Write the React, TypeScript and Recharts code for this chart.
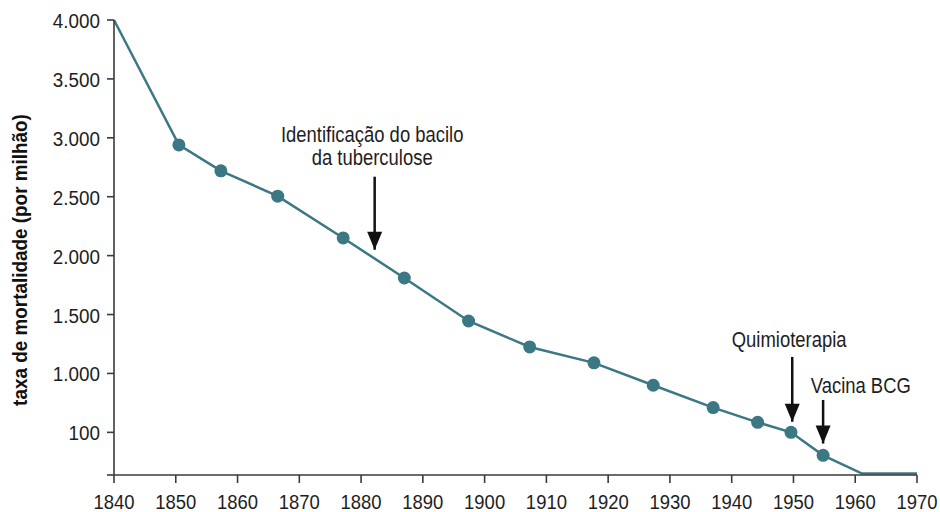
import { LineChart, Line, XAxis, YAxis, ReferenceLine, ReferenceDot } from 'recharts';

// tuberculosis mortality rate (per million)
const YEARS = [1840, 1850.5, 1857.3, 1866.5, 1877.1, 1887.0, 1897.4, 1907.3, 1917.7, 1927.3, 1937.0, 1944.2, 1949.6, 1954.8, 1961.1, 1970];
const RATES = [4000, 2940, 2720, 2505, 2150, 1810, 1445, 1225, 1090, 900, 710, 585, 500, 305, 150, 150];
const MARKED = [false, true, true, true, true, true, true, true, true, true, true, true, true, true, false, false];

const X_TICKS = [1840, 1850, 1860, 1870, 1880, 1890, 1900, 1910, 1920, 1930, 1940, 1950, 1960, 1970];
const Y_MIN = 138;
const Y_TICKS = [Y_MIN, 500, 1000, 1500, 2000, 2500, 3000, 3500, 4000];
const Y_TICK_LABELS = ['', '100', '1.000', '1.500', '2.000', '2.500', '3.000', '3.500', '4.000'];

// annotated events
const EVENT_LINES = [['Identificação do bacilo', 'da tuberculose'], ['Quimioterapia'], ['Vacina BCG']];
const EVENT_YEARS = [1882.2, 1949.8, 1954.8];
const EVENT_ARROW_TOP = [2670, 1140, 775];
const EVENT_ARROW_TIP = [2050, 590, 405];
const EVENT_TEXT_X = [1881.8, 1949.3, 1960.9];
const EVENT_TEXT_Y = [2967, 1227, 836];

const data = YEARS.map((year, i) => ({ year, rate: RATES[i], marked: MARKED[i] }));

const TEAL = '#3b7884';
const AXIS = '#3a3a3a';
const TEXT = '#1e1e1e';
// no condensed face installed, so squeeze Liberation Sans horizontally
const FONT = "'Liberation Sans', Arial, sans-serif";

const renderDot = (p: any) => {
  if (!p.payload.marked) return <g key={`d-${p.index}`} />;
  return <circle key={`d-${p.index}`} cx={p.cx} cy={p.cy} r={6.5} fill={TEAL} />;
};

const XTick = (p: any) => (
  <g transform={`translate(${p.x},${p.y})`}>
    <text transform="scale(0.9,1)" y={26} textAnchor="middle" fontFamily={FONT} fontSize={20.5} fill={TEXT}>
      {p.payload.value}
    </text>
  </g>
);

const YTick = (p: any) => (
  <g transform={`translate(${p.x},${p.y})`}>
    <text transform="scale(0.92,1)" y={8} textAnchor="end" fontFamily={FONT} fontSize={20.5} fill={TEXT}>
      {Y_TICK_LABELS[Y_TICKS.indexOf(p.payload.value)] ?? ''}
    </text>
  </g>
);

const arrowHead = (p: any) => (
  <path d={`M${p.cx},${p.cy} L${p.cx - 7.5},${p.cy - 18} L${p.cx + 7.5},${p.cy - 18} Z`} fill="#111" />
);

const eventText = (lines: string[]) => (p: any) => (
  <g transform={`translate(${p.cx},${p.cy})`}>
    <text transform="scale(0.82,1)" textAnchor="middle" fontFamily={FONT} fontSize={22.5} fill={TEXT}>
      {lines.map((l, i) => (
        <tspan key={i} x={0} dy={i === 0 ? 0 : 23.5}>{l}</tspan>
      ))}
    </text>
  </g>
);

const yLabel = () => (
  <g transform="translate(27,260) rotate(-90)">
    <text transform="scale(0.9,1)" textAnchor="middle" fontFamily={FONT} fontWeight="bold" fontSize={21} fill="#111">
      taxa de mortalidade (por milhão)
    </text>
  </g>
);

export default function App() {
  return (
    <div style={{ position: 'absolute', left: 0, top: 0, width: 940, height: 512, background: '#fff' }}>
      <LineChart width={940} height={512} data={data} margin={{ top: 20, right: 23, bottom: 0, left: 0 }}>
        <XAxis
          dataKey="year"
          type="number"
          domain={[1840, 1970]}
          ticks={X_TICKS}
          interval={0}
          height={37}
          tickSize={8}
          tickMargin={0}
          axisLine={{ stroke: AXIS, strokeWidth: 1.6 }}
          tickLine={{ stroke: AXIS, strokeWidth: 1.6 }}
          tick={XTick}
        />
        <YAxis
          type="number"
          domain={[Y_MIN, 4000]}
          ticks={Y_TICKS}
          interval={0}
          width={114}
          tickSize={7}
          tickMargin={7}
          axisLine={{ stroke: AXIS, strokeWidth: 1.6 }}
          tickLine={{ stroke: AXIS, strokeWidth: 1.6 }}
          tick={YTick}
          label={yLabel}
        />
        <Line
          type="linear"
          dataKey="rate"
          stroke={TEAL}
          strokeWidth={2.5}
          dot={renderDot}
          activeDot={false}
          isAnimationActive={false}
        />
        {EVENT_YEARS.map((yr, i) => (
          <ReferenceLine
            key={`s-${i}`}
            segment={[{ x: yr, y: EVENT_ARROW_TOP[i] }, { x: yr, y: EVENT_ARROW_TIP[i] }]}
            stroke="#111"
            strokeWidth={2.5}
          />
        ))}
        {EVENT_YEARS.map((yr, i) => (
          <ReferenceDot key={`h-${i}`} x={yr} y={EVENT_ARROW_TIP[i]} r={0} shape={arrowHead} />
        ))}
        {EVENT_LINES.map((lines, i) => (
          <ReferenceDot key={`t-${i}`} x={EVENT_TEXT_X[i]} y={EVENT_TEXT_Y[i]} r={0} shape={eventText(lines)} />
        ))}
      </LineChart>
    </div>
  );
}
